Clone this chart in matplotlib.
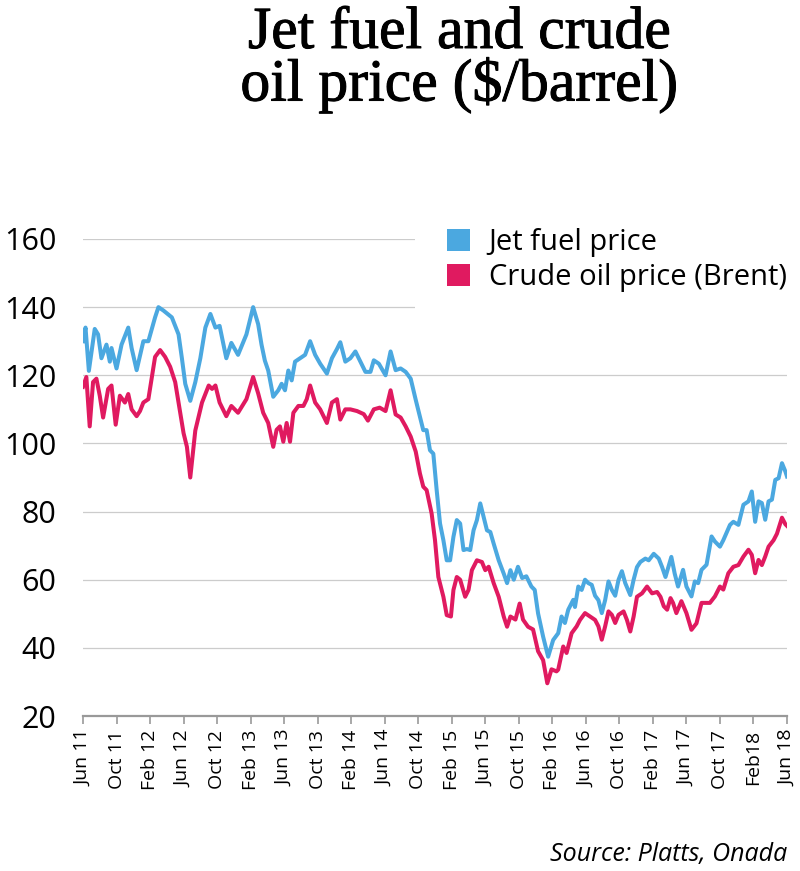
import matplotlib
matplotlib.use("Agg")
import matplotlib.pyplot as plt
import matplotlib.patheffects as pe
from matplotlib.patches import Patch

# months counted from June 2011
jet_months = [0.0, 0.3, 0.7, 1.4, 1.8, 2.2, 2.8, 3.2, 3.4, 4.0, 4.6, 5.4, 5.8, 6.4, 7.2, 7.8,
              8.6, 9.0, 9.6, 10.6, 11.4, 11.8, 12.2, 12.8, 13.4, 14.0, 14.6, 15.2, 15.8, 16.3,
              17.1, 17.7, 18.5, 19.5, 20.3, 20.9, 21.3, 21.7, 22.1, 22.7, 23.3, 23.7, 24.1,
              24.5, 24.9, 25.3, 25.9, 26.5, 27.1, 27.7, 28.3, 29.1, 29.7, 30.3, 30.7, 31.3,
              31.9, 32.5, 33.1, 33.7, 34.3, 34.7, 35.3, 36.1, 36.7, 37.3, 37.9, 38.5, 39.1,
              39.7, 40.2, 40.6, 41.0, 41.4, 41.8, 42.2, 42.6, 43.0, 43.4, 43.8, 44.2, 44.6,
              45.0, 45.4, 45.8, 46.2, 46.6, 47.0, 47.4, 47.8, 48.2, 48.6, 49.0, 49.6, 50.2,
              50.6, 51.0, 51.4, 51.9, 52.4, 52.9, 53.5, 53.9, 54.3, 54.9, 55.5, 56.1, 56.7,
              57.1, 57.5, 57.9, 58.5, 58.7, 59.1, 59.5, 59.9, 60.3, 60.7, 61.1, 61.5, 61.9,
              62.3, 62.7, 63.1, 63.5, 63.9, 64.3, 64.7, 65.3, 65.7, 66.1, 66.5, 67.1, 67.5,
              68.1, 68.7, 69.1, 69.5, 70.2, 70.6, 71.0, 71.6, 72.0, 72.6, 73.0, 73.4, 73.8,
              74.4, 75.0, 75.4, 76.0, 76.4, 77.2, 77.6, 78.2, 78.8, 79.4, 79.8, 80.2, 80.6,
              81.0, 81.4, 81.8, 82.2, 82.6, 83.0, 83.4, 83.8, 84.0]
jet_price = [130, 134, 121.3, 133.6, 132, 125, 129, 124, 128, 122, 129, 134, 128, 121.5, 130, 130,
             137, 140, 139, 137, 132, 125, 117.5, 112.5, 118, 125, 134, 138, 134, 134.5,
             125, 129.5, 126, 132, 140, 135, 129, 124.3, 121.4, 113.7, 115.6, 117.5, 115.6,
             121.4, 118.5, 124, 125, 126, 130, 126, 123.4, 120.5, 125, 127.7, 129.7, 124,
             125, 127, 124, 121, 121, 124.4, 123.4, 120, 127, 121.5, 122, 121, 119,
             112.8, 107.8, 103.9, 103.9, 98, 97, 86.3, 76.5, 71.6, 65.7, 65.7, 72.6, 77.5,
             76.5, 68.7, 69, 68.7, 74.5, 77.5, 82.4, 78.5, 74.5, 74, 70.6, 65.7, 61.8,
             59, 62.8, 60, 63.8, 60.5, 61, 58, 57, 50.1, 43.3, 37.4, 42.3, 44.3,
             49.2, 47.3, 51.2, 54.1, 52, 58, 57, 60, 59, 58.5, 55.3, 54, 50.2,
             54, 59.5, 57, 55.3, 60, 62.5, 59, 55.5, 60, 63.7, 65.2, 66.2, 65.7,
             67.6, 66.2, 63.7, 60.8, 66.7, 61.8, 58, 62.9, 58, 55.1, 59.5, 59, 62.9,
             64.4, 72.7, 71.2, 69.7, 71.6, 76.1, 77, 76.1, 82, 83, 85.9, 77, 83,
             82.5, 77.6, 83, 83.5, 89.3, 89.8, 94.2, 91.8, 90.3]

brent_months = [0.0, 0.4, 0.8, 1.2, 1.6, 2.0, 2.4, 3.0, 3.4, 3.9, 4.4, 5.0, 5.4, 5.8, 6.4, 6.8,
                7.2, 7.8, 8.6, 9.2, 9.8, 10.4, 11.0, 11.6, 12.0, 12.4, 12.8, 13.4, 14.2, 15.0,
                15.4, 15.8, 16.3, 17.1, 17.7, 18.5, 19.5, 20.3, 20.9, 21.5, 22.1, 22.7, 23.1,
                23.5, 23.9, 24.3, 24.7, 25.1, 25.7, 26.3, 26.7, 27.1, 27.7, 28.3, 29.1, 29.7,
                30.3, 30.7, 31.3, 31.9, 32.7, 33.5, 34.0, 34.7, 35.4, 36.1, 36.7, 37.3, 37.9,
                38.5, 39.1, 39.7, 40.2, 40.6, 41.0, 41.6, 42.0, 42.4, 43.0, 43.4, 43.9, 44.2,
                44.6, 45.0, 45.6, 46.0, 46.4, 47.0, 47.6, 48.0, 48.4, 49.0, 49.6, 50.2, 50.6,
                51.0, 51.6, 52.1, 52.5, 53.1, 53.7, 54.3, 54.9, 55.4, 55.9, 56.5, 56.7, 57.3,
                57.7, 58.3, 58.9, 59.3, 59.9, 60.5, 61.1, 61.5, 61.9, 62.3, 62.7, 63.1, 63.5,
                63.9, 64.5, 64.9, 65.3, 65.7, 66.1, 66.7, 67.3, 67.9, 68.5, 68.9, 69.3, 69.7,
                70.1, 70.4, 70.8, 71.4, 72.0, 72.6, 73.2, 73.8, 74.4, 74.8, 75.4, 76.0, 76.4,
                77.0, 77.6, 78.2, 78.8, 79.4, 79.8, 80.2, 80.6, 81.0, 81.4, 81.8, 82.4, 82.8,
                83.4, 83.8, 84.0]
brent_price = [116.6, 119.5, 105, 118, 119, 114, 107.6, 116, 117, 105.5, 114, 112, 114.5, 110, 108, 109.5,
               112, 113, 125.4, 127.4, 125.4, 122.5, 118, 109, 103, 99, 90, 103.8, 112, 117,
               116, 117, 112, 108, 111, 109, 113, 119.5, 114.7, 109, 106, 99, 104,
               105, 100.5, 106, 100.5, 109, 111, 111, 113, 117, 112, 110, 106, 112,
               113, 107, 110, 110, 109.5, 108.6, 106.7, 110, 110.5, 109.5, 115.6, 108.5, 107.6,
               105, 102, 97.6, 91.2, 87.3, 86.3, 79.4, 71.6, 60.8, 55, 49.6, 49.2, 57,
               60.8, 60, 55, 57, 62.8, 65.7, 65.2, 62.8, 63.8, 59, 55, 49.2, 46.2,
               49.2, 48.3, 53, 48.3, 46.2, 45.4, 39, 36.4, 29.6, 33.7, 33.1, 33.6, 40.4,
               38.5, 44.3, 46.3, 48.2, 50.2, 49.2, 48.2, 46.3, 42.4, 46.3, 50.7, 49.7, 47.3,
               49.7, 50.7, 48.2, 44.8, 49.2, 55, 56, 58, 56, 56.4, 55, 52.2, 51.2,
               54.6, 53.2, 50.2, 53.7, 50.2, 45.3, 47.2, 53.2, 53.2, 53.2, 55.1, 58, 57.1,
               61.9, 63.8, 64.3, 66.8, 68.8, 67.3, 61.9, 65.8, 64.3, 66.8, 69.7, 71.6, 73.5,
               78.2, 76.3, 75.8]

tick_labels = ['Jun 11', 'Oct 11', 'Feb 12', 'Jun 12', 'Oct 12', 'Feb 13', 'Jun 13', 'Oct 13',
               'Feb 14', 'Jun 14', 'Oct 14', 'Feb 15', 'Jun 15', 'Oct 15', 'Feb 16', 'Jun 16',
               'Oct 16', 'Feb 17', 'Jun 17', 'Oct 17', 'Feb18', 'Jun 18']
y_ticks = [20, 40, 60, 80, 100, 120, 140, 160]

BLUE = '#4ba8e0'
PINK = '#e01a60'
SANS = 'Open Sans'

fig = plt.figure(figsize=(8, 8.71), dpi=100)
ax = fig.add_axes([83/800, 1 - 716/871, 704/800, (716 - 239)/871])

ax.plot(jet_months, jet_price, color=BLUE, lw=2.9, solid_joinstyle='round', zorder=3)
ax.plot(brent_months, brent_price, color=PINK, lw=2.9, solid_joinstyle='round', zorder=4)

ax.set_xlim(0, 84)
ax.set_ylim(20, 160)
ax.set_yticks(y_ticks)
ax.set_yticklabels([str(v) for v in y_ticks], fontsize=22, family=SANS)
ax.set_xticks([4 * i for i in range(len(tick_labels))])
ax.set_xticklabels(tick_labels, rotation=90, fontsize=14, family=SANS, va='top', ha='center')
ax.tick_params(axis='y', length=0, pad=19)
ax.tick_params(axis='x', length=6, width=1.2, color='#999999', pad=4)
ax.grid(axis='y', color='#cccccc', lw=0.9, zorder=1)
for s in ['left', 'right', 'top']:
    ax.spines[s].set_visible(False)
ax.spines['bottom'].set_color('#999999')
ax.spines['bottom'].set_linewidth(1.6)
ax.spines['bottom'].set_zorder(5)

handles = [Patch(facecolor=BLUE, edgecolor='none'), Patch(facecolor=PINK, edgecolor='none')]
leg = fig.legend(handles, ['Jet fuel price', 'Crude oil price (Brent)'],
                 loc='upper left', bbox_to_anchor=(415/800, 1 - 196/871),
                 prop={'family': SANS, 'size': 21}, frameon=True, fancybox=False,
                 facecolor='white', edgecolor='none', framealpha=1,
                 borderpad=1.1, borderaxespad=0, handlelength=0.8, handleheight=0.8,
                 handletextpad=0.62, labelspacing=0.2)
leg.set_zorder(10)

fig.text(460/800, 1 - 7/871, 'Jet fuel and crude\noil price ($/barrel)', ha='center', va='top',
         family='Liberation Serif', fontsize=43, linespacing=0.92,
         path_effects=[pe.withStroke(linewidth=0.7, foreground='black')])
fig.text(787/800, 1 - 861/871, 'Source: Platts, Onada', ha='right', va='baseline',
         family=SANS, style='italic', fontsize=18)

fig.savefig('out.png', dpi=100, facecolor='white')
